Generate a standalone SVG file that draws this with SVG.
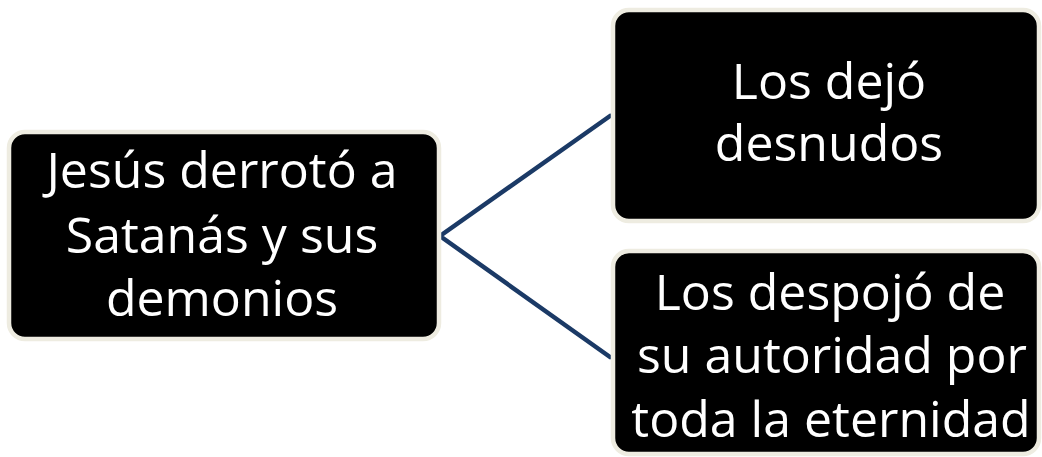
<svg xmlns="http://www.w3.org/2000/svg" width="1042" height="457" viewBox="0 0 1042 457">
<style>
.box{fill:#000000;stroke:#EEECE1;stroke-width:4.5}
.lbl{font-family:"Open Sans","Noto Sans",sans-serif;font-size:50px;fill:#FFFFFF;text-anchor:middle}
.con{fill:none;stroke:#1B3A66;stroke-width:4.5;stroke-linecap:round;stroke-linejoin:miter}
</style>
<rect width="1042" height="457" fill="#FFFFFF"/>
<g id="connectors">
<polyline class="con" points="610,116 440,236 610,357"/>
</g>
<g id="node-root">
<rect class="box" x="9" y="132" width="430" height="207" rx="16"/>
<text class="lbl" x="222" y="188">Jesús derrotó a</text>
<text class="lbl" x="222" y="253">Satanás y sus</text>
<text class="lbl" x="222" y="316">demonios</text>
</g>
<g id="node-desnudos">
<rect class="box" x="613" y="10" width="426" height="211" rx="16"/>
<text class="lbl" x="829" y="99">Los dejó</text>
<text class="lbl" x="829" y="161">desnudos</text>
</g>
<g id="node-autoridad">
<rect class="box" x="613" y="251" width="426" height="203" rx="16"/>
<text class="lbl" x="830" y="310">Los despojó de</text>
<text class="lbl" x="832" y="373">su autoridad por</text>
<text class="lbl" x="831" y="437">toda la eternidad</text>
</g>
</svg>
